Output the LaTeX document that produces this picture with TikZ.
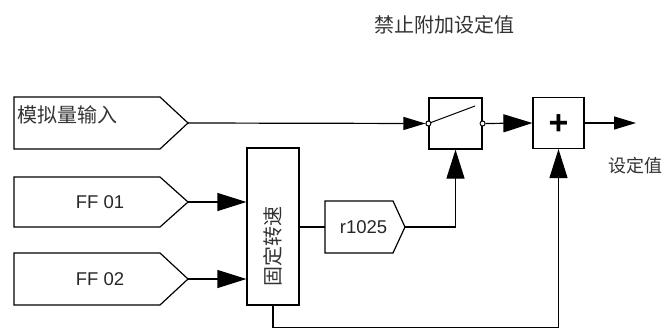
\documentclass[tikz,border=0pt]{standalone}
\usepackage{fontspec}
\setmainfont{Liberation Sans}
\newfontfamily\cjk{Noto Sans CJK SC}
\usetikzlibrary{arrows.meta}
\tikzset{
  blk/.style={draw, line width=1.2pt, inner sep=0pt},
  wire/.style={draw, line width=1.2pt},
  bigtip/.style={wire, -{Triangle[length=29pt,width=18pt]}},
  smalltip/.style={wire, -{Triangle[length=22pt,width=13pt]}},
  cn/.style={inner sep=0pt, text=black!80, font=\cjk\fontsize{20}{20}\selectfont},
  cnsmall/.style={inner sep=0pt, text=black!80, font=\cjk\fontsize{18}{18}\selectfont},
  lat/.style={inner sep=0pt, text=black!85, font=\fontsize{18.5}{18.5}\selectfont},
  port/.style={circle, draw, fill=white, line width=1pt, inner sep=0pt, minimum size=5pt},
}
\begin{document}
\begin{tikzpicture}[x=1pt,y=-1pt]
\useasboundingbox (0,0) rectangle (667,329);

% title
\node[cn] (title) at (444.5,25) {禁止附加设定值};

% input pentagons
\draw[blk] (14,97) -- (160,97) -- (188,123) -- (160,149) -- (14,149) -- cycle;
\coordinate (aitip) at (188,123);
\node[cn, anchor=west] (ailabel) at (17,115) {模拟量输入};

\draw[blk] (14,177) -- (160,177) -- (188,202) -- (160,227) -- (14,227) -- cycle;
\coordinate (ff1tip) at (188,202);
\node[lat] (ff1) at (100,202) {FF 01};

\draw[blk] (14,253) -- (160,253) -- (188,279) -- (160,305) -- (14,305) -- cycle;
\coordinate (ff2tip) at (188,279);
\node[lat] (ff2) at (100,279) {FF 02};

% fixed speed block
\node[blk, minimum width=52pt, minimum height=157pt] (fix) at (273,226.5) {};
\node[cn, rotate=90] (fixlabel) at (273,246) {固定转速};

\draw[bigtip] (ff1tip) -- (ff1tip -| fix.west);
\draw[bigtip] (ff2tip) -- (ff2tip -| fix.west);

% r1025
\draw[blk] (325,201) -- (393,201) -- (405,227) -- (393,253) -- (325,253) -- cycle;
\coordinate (rtip) at (405,227);
\coordinate (rleft) at (325,227);
\node[lat] (rlabel) at (363.5,227) {r1025};
\draw[wire] (rleft -| fix.east) -- (rleft);

% switch
\node[blk, minimum width=53pt, minimum height=51pt] (sw) at (455.5,123.5) {};
\coordinate (blade) at (475,106);
\draw[line width=1pt] (sw.west) -- (blade);
\node[port] (swin) at (sw.west) {};
\node[port] (swout) at (sw.east) {};

% summation
\node[blk, minimum width=51pt, minimum height=51pt] (plus) at (558.5,123) {};
\node[inner sep=0pt, font=\bfseries\fontsize{34}{34}\selectfont, yshift=-2pt] (plussign) at (plus.center) {+};

% connectors
\draw[smalltip] (aitip) -- (swin.west);
\draw[bigtip] (swout.east) -- (plus.west);
\coordinate (out) at (636,123);
\draw[smalltip] (plus.east) -- (out);
\node[cnsmall] (outlabel) at (635.5,166) {设定值};

\draw[bigtip] (rtip) -| (sw.south);
\draw[bigtip] (fix.south) -- ++(0,22) -| (plus.south);
\end{tikzpicture}
\end{document}
